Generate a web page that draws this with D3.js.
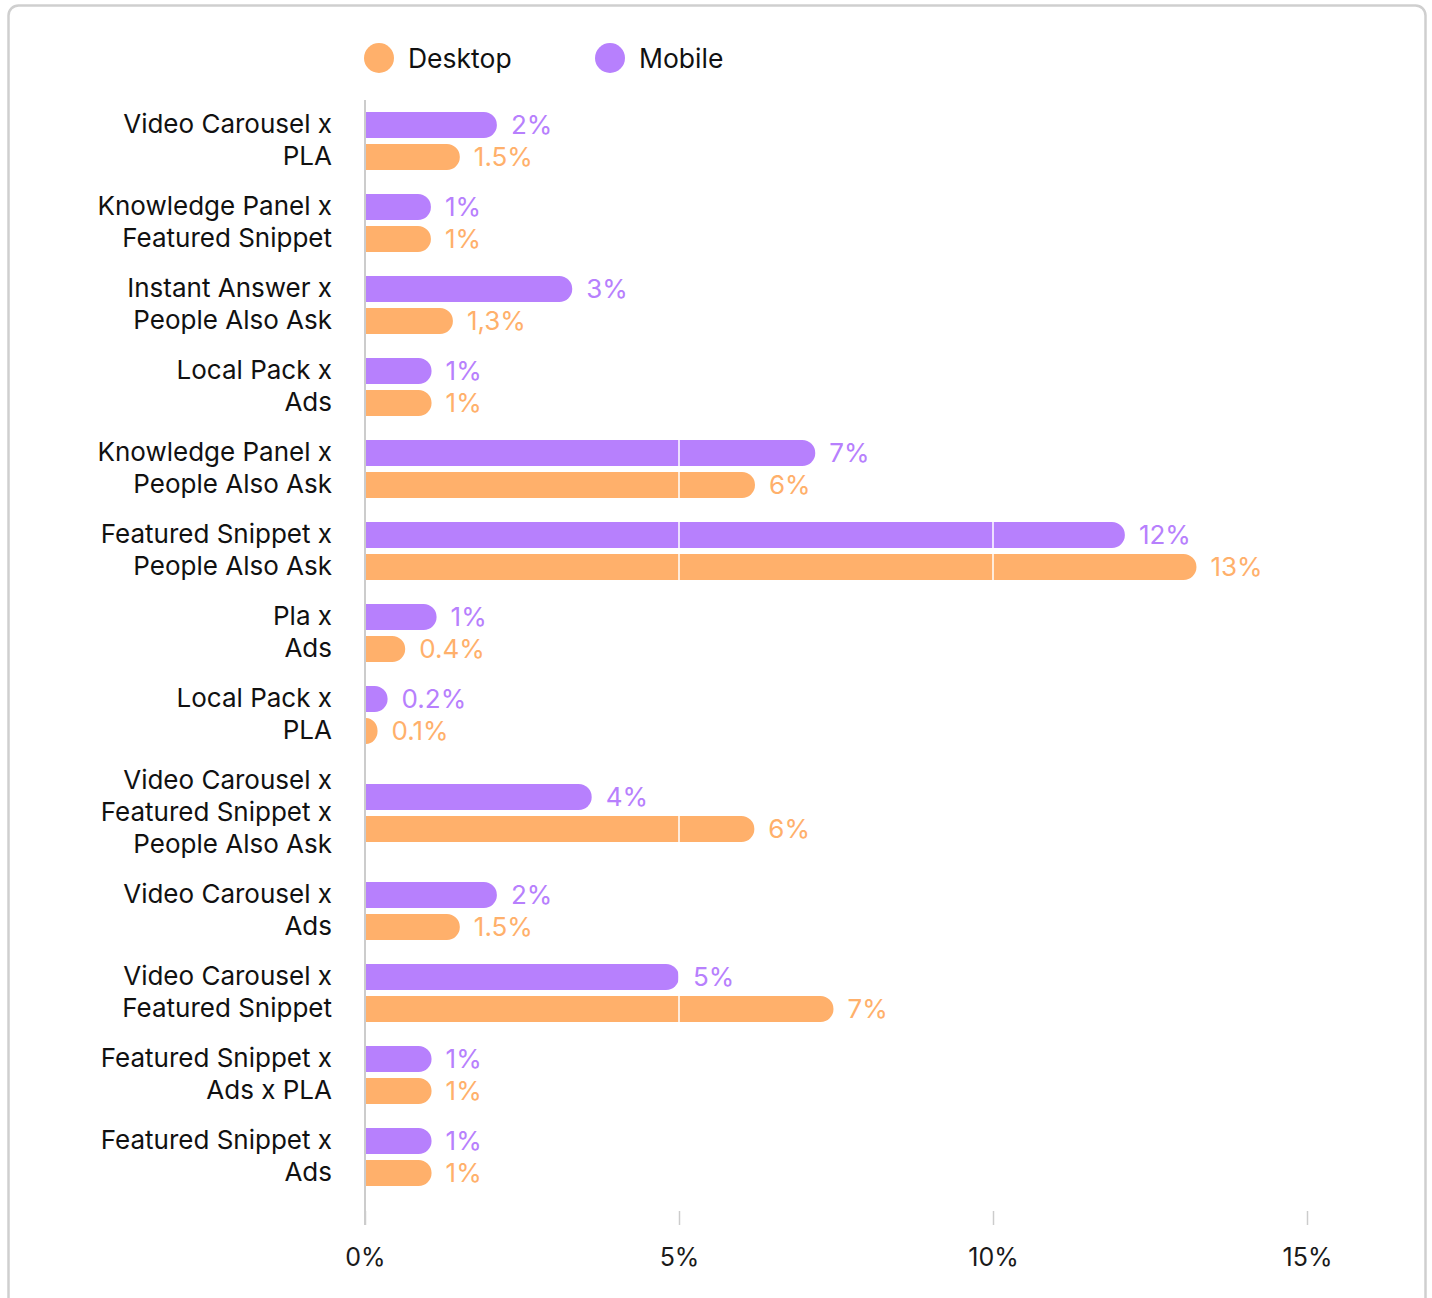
<!DOCTYPE html>
<html>
<head>
<meta charset="utf-8">
<script src="https://cdn.jsdelivr.net/npm/d3@7"></script>
<style>
  html, body { margin: 0; padding: 0; background: #fff; }
  svg { display: block; font-family: Inter, "Noto Sans", sans-serif; }
</style>
</head>
<body>
<svg id="chart" width="1432" height="1298"></svg>
<script>
// ---- data ----
const categories = [
  ["Video Carousel x", "PLA"],
  ["Knowledge Panel x", "Featured Snippet"],
  ["Instant Answer x", "People Also Ask"],
  ["Local Pack x", "Ads"],
  ["Knowledge Panel x", "People Also Ask"],
  ["Featured Snippet x", "People Also Ask"],
  ["Pla x", "Ads"],
  ["Local Pack x", "PLA"],
  ["Video Carousel x", "Featured Snippet x", "People Also Ask"],
  ["Video Carousel x", "Ads"],
  ["Video Carousel x", "Featured Snippet"],
  ["Featured Snippet x", "Ads x PLA"],
  ["Featured Snippet x", "Ads"]
];
const seriesNames = ["Mobile", "Desktop"];
const mobileValues  = [2.1, 1.05, 3.3, 1.06, 7.17, 12.1, 1.14, 0.36, 3.61, 2.1, 5.0, 1.06, 1.06];
const desktopValues = [1.51, 1.05, 1.4, 1.06, 6.21, 13.24, 0.64, 0.2, 6.2, 1.51, 7.46, 1.06, 1.06];
const mobileLabels  = ["2%", "1%", "3%", "1%", "7%", "12%", "1%", "0.2%", "4%", "2%", "5%", "1%", "1%"];
const desktopLabels = ["1.5%", "1%", "1,3%", "1%", "6%", "13%", "0.4%", "0.1%", "6%", "1.5%", "7%", "1%", "1%"];
const tickValues = [0, 5, 10, 15];
const tickLabels = ["0%", "5%", "10%", "15%"];
const legendItems = ["Desktop", "Mobile"];

// ---- styles ----
const colors = { Mobile: "#b780fd", Desktop: "#ffb06b" };
const svg = d3.select("#chart");

// outer frame
svg.append("rect")
  .attr("x", 8.5).attr("y", 5.5)
  .attr("width", 1417).attr("height", 1320)
  .attr("rx", 10).attr("ry", 10)
  .attr("fill", "#fff").attr("stroke", "#cfcfcf").attr("stroke-width", 2.5);

// scales
const x = d3.scaleLinear().domain([0, 15]).range([365, 1307]);

const lineH = 32;
const bandHeights = categories.map(c => c.length * lineH + 18);
const top0 = 100;
const cum = d3.cumsum(bandHeights);
const starts = bandHeights.map((h, i) => top0 + (i === 0 ? 0 : cum[i - 1]));
const centers = starts.map((s, i) => s + bandHeights[i] / 2);
const keys = categories.map((c, i) => i);
const yCenter = d3.scaleOrdinal().domain(keys).range(centers);
const ySeries = d3.scaleBand().domain(seriesNames).range([-29, 29]).paddingInner(0.1875).paddingOuter(0);
const barH = ySeries.bandwidth();

const dataRows = [];
keys.forEach(i => {
  dataRows.push({ i, s: "Mobile", v: mobileValues[i], label: mobileLabels[i] });
  dataRows.push({ i, s: "Desktop", v: desktopValues[i], label: desktopLabels[i] });
});

// axis line
const yTop = 100, yBottom = 1225;
svg.append("line")
  .attr("x1", x(0)).attr("x2", x(0))
  .attr("y1", yTop).attr("y2", yBottom)
  .attr("stroke", "#cccccc").attr("stroke-width", 2);

// bottom axis ticks
const axis = d3.axisBottom(x).tickValues(tickValues)
  .tickFormat((d, i) => tickLabels[i]).tickSize(14).tickPadding(23);
const axisG = svg.append("g").attr("transform", `translate(0,${yBottom - 14})`).call(axis);
axisG.select(".domain").remove();
axisG.selectAll(".tick line").attr("stroke", "#cccccc").attr("stroke-width", 1.5);
axisG.selectAll(".tick text")
  .attr("font-size", 25).attr("fill", "#1a1a1a")
  .attr("font-family", "Inter, sans-serif");

// bars
function barPath(x0, x1, y, h) {
  const w = Math.max(0, x1 - x0);
  const ry = h / 2;
  const rx = Math.min(ry, w);
  return `M${x0},${y}H${x1 - rx}A${rx},${ry} 0 0 1 ${x1},${y + ry}A${rx},${ry} 0 0 1 ${x1 - rx},${y + h}H${x0}Z`;
}

svg.append("g").selectAll("path")
  .data(dataRows).join("path")
  .attr("d", d => barPath(x(0) + 1, x(d.v), yCenter(d.i) + ySeries(d.s), barH))
  .attr("fill", d => colors[d.s]);

// white gridlines over bars
svg.append("g").selectAll("line")
  .data(tickValues.filter(t => t > 0)).join("line")
  .attr("x1", d => x(d)).attr("x2", d => x(d))
  .attr("y1", yTop).attr("y2", yBottom - 16)
  .attr("stroke", "#ffffff").attr("stroke-width", 1.5);

// value labels
svg.append("g").selectAll("text")
  .data(dataRows).join("text")
  .attr("x", d => x(d.v) + 14)
  .attr("y", d => yCenter(d.i) + ySeries(d.s) + barH / 2)
  .attr("dy", "0.34em")
  .attr("font-size", 26)
  .attr("fill", d => colors[d.s])
  .text(d => d.label);

// category labels
const catG = svg.append("g").selectAll("text")
  .data(keys).join("text")
  .attr("text-anchor", "end")
  .attr("font-size", 26)
  .attr("fill", "#111");
catG.each(function(i) {
  const lines = categories[i];
  const n = lines.length;
  d3.select(this).selectAll("tspan")
    .data(lines).join("tspan")
    .attr("x", 332)
    .attr("y", (d, j) => yCenter(i) + (j - (n - 1) / 2) * lineH)
    .attr("dy", "0.3em")
    .text(d => d);
});

// legend
const legendX = [379, 610];
const legendG = svg.append("g").selectAll("g")
  .data(legendItems).join("g")
  .attr("transform", (d, i) => `translate(${legendX[i]},58)`);
legendG.append("circle").attr("r", 15).attr("fill", d => colors[d]);
legendG.append("text")
  .attr("x", 29).attr("dy", "0.36em")
  .attr("font-size", 26.5).attr("fill", "#111")
  .text(d => d);
</script>
</body>
</html>
